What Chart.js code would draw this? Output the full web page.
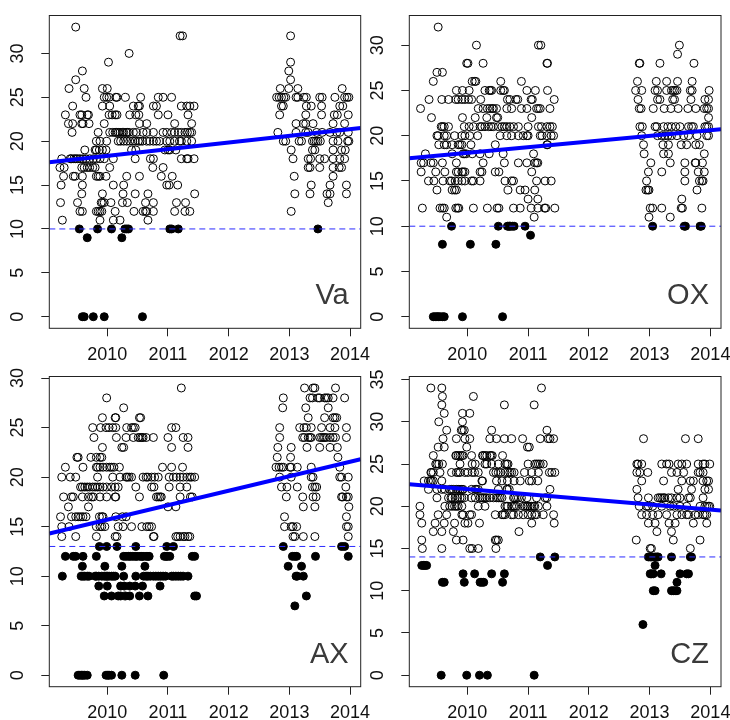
<!DOCTYPE html>
<html>
<head>
<meta charset="utf-8">
<script src="https://cdn.jsdelivr.net/npm/chart.js@4.4.1/dist/chart.umd.min.js"></script>
<style>
  html, body { margin: 0; padding: 0; background: #ffffff; }
  #wrap { position: relative; width: 730px; height: 720px; }
  #wrap canvas { position: absolute; left: 0; top: 0; }
</style>
</head>
<body>
<div id="wrap">
  <canvas id="cVa" width="730" height="720"></canvas>
  <canvas id="cOX" width="730" height="720"></canvas>
  <canvas id="cAX" width="730" height="720"></canvas>
  <canvas id="cCZ" width="730" height="720"></canvas>
</div>
<script>
// Observations per station: each row is [value, [decimal years of the observations]]
const vaRows = [
  [33, [2009.48]],
  [32, [2011.20, 2011.24, 2013.02]],
  [30, [2010.36]],
  [29, [2010.02, 2013.02]],
  [28, [2009.59, 2012.99]],
  [27, [2009.48, 2013.02]],
  [26, [2009.37, 2009.62, 2009.92, 2010.00, 2012.85, 2012.99, 2013.14, 2013.87]],
  [25, [2009.65, 2009.95, 2009.99, 2010.03, 2010.14, 2010.16, 2010.30, 2010.55, 2010.84, 2010.92, 2011.06, 2012.79, 2012.83, 2012.87, 2012.91, 2012.94, 2013.11, 2013.14, 2013.24, 2013.28, 2013.50, 2013.54, 2013.75, 2013.91, 2013.95, 2013.98]],
  [24, [2009.43, 2009.92, 2010.04, 2010.43, 2010.51, 2010.53, 2010.76, 2010.81, 2011.22, 2011.31, 2011.36, 2011.43, 2012.87, 2012.90, 2013.28, 2013.36, 2013.53, 2013.83, 2013.88]],
  [23, [2009.31, 2009.55, 2009.58, 2009.67, 2009.69, 2010.03, 2010.08, 2010.13, 2010.16, 2010.37, 2010.47, 2010.52, 2010.84, 2011.00, 2011.33, 2012.84, 2013.27, 2013.53, 2013.74, 2013.79, 2013.97]],
  [22, [2009.36, 2009.43, 2009.58, 2009.60, 2009.70, 2009.95, 2010.53, 2010.65, 2011.11, 2011.39, 2013.11, 2013.23, 2013.27, 2013.39, 2013.72, 2013.91]],
  [21, [2009.42, 2009.85, 2010.04, 2010.09, 2010.13, 2010.15, 2010.18, 2010.21, 2010.25, 2010.27, 2010.31, 2010.33, 2010.36, 2010.43, 2010.48, 2010.59, 2010.65, 2010.76, 2010.92, 2010.98, 2011.06, 2011.11, 2011.17, 2011.22, 2011.28, 2011.32, 2011.36, 2011.39, 2012.81, 2013.11, 2013.27, 2013.31, 2013.45, 2013.54, 2013.67, 2013.78, 2013.83, 2013.97]],
  [20, [2009.82, 2009.88, 2009.99, 2010.18, 2010.22, 2010.27, 2010.32, 2010.37, 2010.42, 2010.46, 2010.51, 2010.54, 2010.58, 2010.65, 2010.70, 2010.76, 2010.81, 2010.86, 2010.98, 2011.03, 2011.11, 2011.19, 2011.22, 2011.31, 2011.39, 2012.90, 2012.94, 2013.16, 2013.20, 2013.38, 2013.41, 2013.44, 2013.47, 2013.51, 2013.72, 2013.80, 2013.96, 2013.98]],
  [19, [2009.63, 2009.80, 2009.82, 2009.87, 2009.92, 2009.98, 2010.40, 2010.47, 2010.95, 2011.00, 2011.03, 2011.13, 2013.03, 2013.38, 2013.42, 2013.72, 2013.86, 2013.92]],
  [18, [2009.25, 2009.39, 2009.41, 2009.45, 2009.48, 2009.51, 2009.55, 2009.60, 2009.65, 2009.71, 2009.77, 2009.82, 2009.88, 2009.95, 2010.10, 2010.46, 2010.71, 2010.76, 2011.22, 2011.31, 2011.33, 2011.43, 2013.06, 2013.31, 2013.35, 2013.50, 2013.58, 2013.72, 2013.83, 2013.91]],
  [17, [2009.22, 2009.29, 2009.58, 2009.62, 2009.67, 2009.71, 2009.76, 2009.80, 2010.04, 2010.75, 2010.92, 2013.31, 2013.34, 2013.50, 2013.72, 2013.82, 2013.86]],
  [16, [2009.28, 2009.44, 2009.47, 2009.59, 2009.82, 2009.85, 2009.88, 2009.98, 2010.32, 2010.53, 2010.89, 2011.07, 2013.08, 2013.72]],
  [15, [2009.24, 2009.59, 2010.10, 2010.27, 2010.98, 2011.02, 2011.16, 2013.36, 2013.67, 2013.94]],
  [14, [2009.58, 2009.92, 2010.26, 2010.46, 2010.67, 2011.44, 2013.09, 2013.34, 2013.62, 2013.67, 2013.94]],
  [13, [2009.23, 2009.51, 2009.90, 2009.92, 2009.95, 2010.06, 2010.25, 2010.33, 2010.63, 2010.76, 2011.14, 2011.29, 2013.64]],
  [12, [2009.55, 2009.59, 2009.82, 2009.85, 2009.88, 2009.91, 2010.13, 2010.44, 2010.59, 2010.63, 2010.65, 2010.76, 2011.11, 2011.28, 2011.36, 2013.03]],
  [11, [2009.26, 2009.88, 2010.10, 2010.21, 2010.67]],
  [10, [2009.54, 2009.84, 2010.07, 2010.29, 2010.32, 2010.35, 2011.03, 2011.06, 2011.17, 2013.47]],
  [9, [2009.67, 2010.24]],
  [0, [2009.59, 2009.62, 2009.77, 2009.95, 2010.58]]
];

const oxRows = [
  [32, [2009.52]],
  [30, [2010.15, 2011.17, 2011.21, 2013.49]],
  [29, [2013.46]],
  [28, [2009.99, 2010.01, 2010.26, 2011.31, 2011.32, 2012.83, 2012.84, 2013.17, 2013.73]],
  [27, [2009.50, 2009.59]],
  [26, [2009.44, 2010.08, 2010.12, 2010.14, 2010.55, 2010.89, 2012.80, 2013.11, 2013.28, 2013.46, 2013.70]],
  [25, [2009.82, 2009.92, 2010.03, 2010.29, 2010.36, 2010.38, 2010.40, 2010.55, 2010.59, 2010.61, 2010.98, 2011.12, 2011.32, 2012.77, 2012.87, 2013.09, 2013.13, 2013.28, 2013.36, 2013.39, 2013.42, 2013.45, 2013.67, 2013.70, 2013.98]],
  [24, [2009.37, 2009.58, 2009.69, 2009.81, 2009.85, 2009.91, 2009.96, 2010.02, 2010.07, 2010.22, 2010.66, 2010.70, 2010.80, 2010.83, 2011.05, 2011.07, 2011.43, 2012.81, 2013.13, 2013.17, 2013.38, 2013.41, 2013.68, 2013.91, 2013.97]],
  [23, [2009.23, 2010.18, 2010.26, 2010.33, 2010.37, 2010.41, 2010.43, 2010.48, 2010.65, 2010.73, 2010.89, 2010.98, 2011.14, 2011.17, 2011.20, 2011.36, 2012.83, 2012.86, 2013.06, 2013.24, 2013.35, 2013.47, 2013.63, 2013.76, 2013.90, 2013.94, 2013.97]],
  [22, [2009.41, 2009.92, 2010.13, 2010.32, 2010.48, 2010.50, 2011.06, 2013.97]],
  [21, [2009.57, 2009.59, 2009.62, 2009.69, 2009.95, 2010.03, 2010.10, 2010.21, 2010.24, 2010.29, 2010.35, 2010.39, 2010.43, 2010.51, 2010.57, 2010.61, 2010.65, 2010.70, 2010.76, 2010.84, 2011.00, 2011.17, 2011.22, 2011.31, 2011.36, 2011.40, 2012.84, 2012.88, 2013.09, 2013.12, 2013.23, 2013.30, 2013.36, 2013.43, 2013.50, 2013.64, 2013.69, 2013.72, 2013.91, 2013.94, 2013.97]],
  [20, [2009.50, 2009.52, 2009.62, 2009.66, 2009.79, 2009.91, 2009.96, 2010.04, 2010.17, 2010.54, 2010.65, 2010.73, 2010.84, 2010.92, 2010.98, 2011.00, 2011.20, 2011.23, 2011.31, 2011.38, 2011.42, 2012.87, 2013.13, 2013.20, 2013.25, 2013.30, 2013.36, 2013.45, 2013.56, 2013.64, 2013.78, 2013.94, 2013.97]],
  [19, [2009.53, 2009.62, 2009.66, 2009.75, 2009.85, 2009.88, 2009.91, 2010.06, 2010.46, 2011.31, 2011.32, 2012.90, 2013.22, 2013.31, 2013.52, 2013.61, 2013.76, 2013.82]],
  [18, [2009.31, 2009.75, 2009.93, 2009.95, 2009.98, 2010.08, 2010.21, 2010.36, 2010.59, 2011.09, 2012.91, 2013.23, 2013.31, 2013.90]],
  [17, [2009.24, 2009.28, 2009.40, 2009.44, 2009.59, 2009.82, 2010.26, 2010.61, 2010.84, 2010.98, 2011.11, 2011.14, 2011.16, 2013.02, 2013.34, 2013.58, 2013.75, 2013.76, 2013.87]],
  [16, [2009.24, 2009.48, 2009.63, 2009.82, 2009.85, 2009.91, 2009.93, 2009.96, 2010.21, 2010.24, 2010.46, 2010.52, 2011.06, 2012.98, 2013.20, 2013.58, 2013.80, 2013.90]],
  [15, [2009.36, 2009.45, 2009.60, 2009.71, 2009.74, 2009.80, 2009.85, 2009.91, 2009.96, 2010.07, 2010.10, 2010.21, 2010.62, 2010.73, 2010.76, 2011.14, 2011.28, 2011.38, 2012.95, 2013.58, 2013.82, 2013.86, 2013.88]],
  [14, [2009.50, 2009.75, 2009.79, 2009.82, 2010.67, 2010.87, 2010.95, 2011.11, 2012.94, 2012.97, 2012.99, 2013.78]],
  [13, [2011.00, 2011.16, 2013.53]],
  [12, [2009.26, 2009.55, 2009.59, 2009.62, 2009.81, 2009.84, 2009.86, 2010.10, 2010.33, 2010.49, 2010.52, 2010.76, 2010.87, 2011.05, 2011.16, 2011.27, 2011.29, 2011.44, 2013.01, 2013.05, 2013.20, 2013.52, 2013.54, 2013.86]],
  [11, [2009.66, 2011.10, 2012.99, 2013.34]],
  [10, [2009.74, 2010.51, 2010.66, 2010.69, 2010.71, 2010.74, 2010.77, 2010.95, 2013.05, 2013.57, 2013.59, 2013.83, 2013.85]],
  [9, [2011.04]],
  [8, [2009.59, 2010.05, 2010.47]],
  [0, [2009.44, 2009.47, 2009.50, 2009.52, 2009.55, 2009.59, 2009.62, 2009.92, 2010.58]]
];

const axRows = [
  [29, [2011.22, 2013.25, 2013.39, 2013.42, 2013.76]],
  [28, [2009.99, 2012.90, 2013.34, 2013.38, 2013.47, 2013.50, 2013.58, 2013.61, 2013.64, 2013.72, 2013.91]],
  [27, [2010.27, 2012.89, 2013.27, 2013.64]],
  [26, [2009.92, 2010.13, 2010.14, 2010.53, 2010.55, 2013.31, 2013.58, 2013.72, 2013.75, 2013.78]],
  [25, [2009.76, 2009.89, 2009.98, 2010.03, 2010.09, 2010.14, 2010.32, 2010.40, 2010.43, 2010.46, 2011.06, 2011.13, 2012.84, 2013.17, 2013.24, 2013.28, 2013.36, 2013.53, 2013.67, 2013.75, 2013.94]],
  [24, [2009.78, 2010.15, 2010.31, 2010.43, 2010.51, 2010.54, 2010.57, 2010.59, 2010.64, 2010.76, 2011.00, 2011.25, 2011.33, 2012.84, 2013.22, 2013.25, 2013.31, 2013.34, 2013.36, 2013.50, 2013.53, 2013.56, 2013.58, 2013.61, 2013.67, 2013.72, 2013.76, 2013.94]],
  [23, [2009.92, 2010.24, 2010.27, 2011.06, 2011.33, 2012.81, 2013.03, 2013.29, 2013.50, 2013.67, 2013.79]],
  [22, [2009.50, 2009.52, 2009.73, 2009.82, 2009.88, 2009.91, 2012.80, 2013.02, 2013.80]],
  [21, [2009.31, 2009.60, 2009.82, 2009.84, 2009.88, 2009.93, 2009.99, 2010.04, 2010.07, 2010.11, 2010.20, 2010.91, 2011.06, 2011.24, 2012.78, 2012.83, 2012.87, 2012.90, 2013.01, 2013.03, 2013.13, 2013.36, 2013.83]],
  [20, [2009.25, 2009.39, 2009.48, 2009.84, 2010.09, 2010.21, 2010.31, 2010.33, 2010.36, 2010.40, 2010.59, 2010.64, 2010.67, 2010.73, 2010.78, 2010.84, 2011.02, 2011.09, 2011.14, 2011.20, 2011.25, 2011.31, 2011.36, 2011.39, 2011.44, 2012.84, 2013.03, 2013.36, 2013.39, 2013.83, 2013.86, 2013.97]],
  [19, [2009.56, 2009.59, 2009.63, 2009.67, 2009.71, 2009.76, 2009.80, 2009.84, 2009.88, 2009.93, 2009.99, 2010.07, 2010.13, 2010.18, 2010.47, 2010.73, 2010.77, 2011.02, 2011.20, 2011.31, 2012.87, 2012.96, 2013.13, 2013.38, 2013.42, 2013.45, 2013.93]],
  [18, [2009.28, 2009.41, 2009.44, 2009.59, 2009.69, 2009.74, 2009.77, 2009.88, 2009.99, 2010.13, 2010.14, 2010.53, 2010.81, 2010.84, 2010.87, 2010.89, 2011.20, 2011.37, 2011.40, 2012.95, 2013.22, 2013.39, 2013.44, 2013.86, 2013.88, 2013.94, 2013.97]],
  [17, [2009.36, 2009.69, 2011.00, 2011.13, 2013.23, 2013.42, 2013.98]],
  [16, [2009.23, 2009.41, 2009.48, 2009.52, 2009.56, 2009.60, 2009.65, 2009.87, 2009.91, 2009.93, 2010.14, 2010.25, 2010.31, 2012.92, 2013.94]],
  [15, [2009.25, 2009.37, 2009.82, 2009.88, 2009.91, 2009.96, 2010.18, 2010.26, 2010.40, 2010.57, 2010.65, 2010.69, 2010.73, 2012.92, 2013.03, 2013.06, 2013.12, 2013.94, 2013.97]],
  [14, [2009.25, 2009.48, 2009.82, 2010.13, 2010.16, 2010.76, 2010.77, 2011.13, 2011.16, 2011.20, 2011.25, 2011.28, 2011.33, 2011.36, 2013.06, 2013.09, 2013.23, 2013.42, 2013.97]],
  [13, [2009.87, 2009.99, 2010.16, 2010.47, 2010.98, 2011.09, 2012.90, 2013.86, 2013.91]],
  [12, [2009.31, 2009.44, 2009.48, 2009.60, 2009.82, 2010.27, 2010.31, 2010.35, 2010.38, 2010.42, 2010.46, 2010.49, 2010.54, 2010.57, 2010.59, 2010.64, 2010.67, 2010.69, 2010.94, 2010.97, 2010.99, 2011.03, 2011.40, 2011.44, 2013.05, 2013.09, 2013.12, 2013.43, 2013.97]],
  [11, [2009.59, 2009.96, 2010.24, 2010.62, 2012.98, 2013.20]],
  [10, [2009.26, 2009.57, 2009.60, 2009.63, 2009.67, 2009.70, 2009.80, 2009.82, 2009.86, 2009.91, 2009.95, 2009.98, 2010.00, 2010.03, 2010.07, 2010.10, 2010.13, 2010.27, 2010.47, 2010.60, 2010.64, 2010.67, 2010.71, 2010.76, 2010.80, 2010.84, 2010.88, 2010.92, 2010.96, 2011.06, 2011.09, 2011.13, 2011.17, 2011.21, 2011.25, 2011.33, 2013.11, 2013.13, 2013.23]],
  [9, [2009.86, 2010.00, 2010.22, 2010.28, 2010.37, 2010.46, 2010.58, 2010.87]],
  [8, [2009.95, 2010.07, 2010.18, 2010.22, 2010.30, 2010.37, 2010.53, 2010.67, 2011.44, 2011.47, 2013.28]],
  [7, [2013.09]],
  [0, [2009.52, 2009.55, 2009.58, 2009.60, 2009.63, 2009.67, 2009.98, 2010.01, 2010.03, 2010.07, 2010.24, 2010.46, 2010.93]]
];

const czRows = [
  [34, [2009.40, 2009.58, 2011.22]],
  [33, [2009.59, 2010.10]],
  [32, [2009.58, 2010.61, 2011.10]],
  [31, [2009.62, 2009.92, 2010.04]],
  [30, [2009.53, 2009.92]],
  [29, [2009.66, 2009.90, 2009.92, 2009.95, 2010.40, 2011.31]],
  [28, [2009.60, 2009.82, 2009.96, 2010.04, 2010.37, 2010.48, 2010.61, 2010.73, 2010.91, 2011.20, 2011.33, 2011.36, 2011.42, 2012.90, 2013.59, 2013.80]],
  [27, [2009.52, 2009.62, 2009.99, 2010.99, 2011.02]],
  [26, [2009.44, 2009.81, 2009.82, 2009.85, 2009.88, 2009.91, 2009.93, 2010.07, 2010.25, 2010.26, 2010.29, 2010.32, 2010.37, 2010.39, 2010.41, 2010.58]],
  [25, [2009.48, 2009.50, 2009.53, 2009.59, 2009.88, 2010.08, 2010.13, 2010.29, 2010.32, 2010.40, 2010.51, 2010.62, 2010.65, 2010.67, 2011.00, 2011.11, 2011.14, 2011.17, 2011.20, 2011.25, 2012.79, 2012.81, 2012.87, 2013.20, 2013.28, 2013.32, 2013.47, 2013.53, 2013.61, 2013.80, 2013.88, 2013.91, 2013.99]],
  [24, [2009.40, 2009.41, 2009.44, 2009.55, 2009.74, 2009.82, 2009.85, 2009.88, 2009.96, 2010.01, 2010.08, 2010.12, 2010.18, 2010.43, 2010.47, 2010.51, 2010.55, 2010.62, 2010.67, 2010.70, 2010.73, 2010.77, 2010.94, 2011.06, 2011.17, 2011.35, 2011.39, 2011.44, 2012.79, 2012.84, 2012.97, 2013.36, 2013.45, 2013.56, 2013.80, 2013.83, 2013.88]],
  [23, [2009.29, 2009.36, 2009.39, 2009.41, 2009.44, 2009.58, 2010.24, 2010.25, 2010.48, 2010.57, 2010.66, 2010.77, 2010.87, 2011.02, 2011.06, 2011.16, 2012.87, 2013.23, 2013.53, 2013.67, 2013.72, 2013.88, 2013.94, 2013.97]],
  [22, [2009.36, 2009.50, 2009.58, 2009.63, 2009.71, 2009.74, 2009.77, 2009.82, 2009.85, 2009.88, 2009.91, 2009.93, 2010.07, 2010.13, 2010.15, 2010.18, 2010.51, 2010.65, 2010.66, 2010.69, 2011.36, 2012.79, 2013.47, 2013.69, 2013.91, 2013.97]],
  [21, [2009.50, 2009.69, 2009.73, 2009.75, 2009.80, 2009.84, 2009.88, 2009.91, 2009.95, 2010.07, 2010.13, 2010.21, 2010.24, 2010.26, 2010.29, 2010.32, 2010.37, 2010.43, 2010.48, 2010.51, 2010.54, 2010.57, 2010.76, 2010.78, 2010.81, 2010.84, 2010.89, 2010.98, 2011.14, 2011.28, 2011.31, 2012.81, 2012.98, 2013.14, 2013.17, 2013.20, 2013.23, 2013.25, 2013.31, 2013.36, 2013.45, 2013.50, 2013.64, 2013.67, 2013.88]],
  [20, [2009.22, 2009.63, 2009.71, 2009.75, 2009.79, 2009.82, 2009.85, 2009.91, 2010.18, 2010.29, 2010.62, 2010.65, 2010.67, 2010.73, 2010.76, 2010.78, 2010.81, 2010.92, 2010.95, 2010.98, 2011.00, 2011.03, 2011.06, 2011.09, 2011.11, 2011.17, 2011.31, 2012.83, 2012.95, 2012.98, 2013.05, 2013.20, 2013.34, 2013.39, 2013.50, 2013.61, 2013.83, 2013.91, 2013.94, 2013.97, 2013.99]],
  [19, [2009.22, 2009.52, 2009.66, 2009.91, 2009.93, 2010.04, 2010.07, 2010.46, 2010.57, 2010.59, 2010.62, 2010.73, 2010.76, 2010.84, 2010.92, 2011.00, 2011.06, 2011.11, 2011.14, 2011.25, 2011.42, 2012.87, 2012.95, 2013.05, 2013.14, 2013.28, 2013.45, 2013.53, 2013.61, 2013.64, 2013.75, 2013.80, 2013.88, 2013.91, 2013.94]],
  [18, [2009.25, 2009.47, 2009.62, 2009.79, 2009.96, 2010.01, 2010.20, 2011.06, 2011.43, 2012.98, 2013.09, 2013.32, 2013.42, 2013.72, 2013.94]],
  [17, [2009.44, 2009.58, 2009.77, 2010.85, 2013.12, 2013.36]],
  [16, [2009.25, 2009.82, 2009.93, 2010.46, 2010.48, 2010.51, 2012.78, 2013.39, 2013.83]],
  [15, [2009.26, 2009.58, 2010.04, 2010.08, 2010.18, 2010.47, 2013.01, 2013.03, 2013.67]],
  [14, [2011.20, 2011.44, 2012.98, 2013.01, 2013.03, 2013.09, 2013.12, 2013.14, 2013.36, 2013.67, 2013.69]],
  [13, [2009.25, 2009.28, 2009.30, 2009.33, 2011.32, 2013.09]],
  [12, [2009.93, 2010.12, 2010.40, 2010.61, 2013.01, 2013.03, 2013.06, 2013.19, 2013.50, 2013.61, 2013.64]],
  [11, [2009.59, 2009.62, 2009.95, 2010.21, 2010.24, 2010.27, 2010.58, 2013.45]],
  [10, [2013.06, 2013.09, 2013.36, 2013.39, 2013.42, 2013.45]],
  [6, [2012.89]],
  [0, [2009.57, 2009.99, 2010.20, 2010.33, 2011.10]]
];

const stationNames = ['Va', 'OX', 'AX', 'CZ'];
const thresholds = [10, 10, 13, 14];          // dashed reference level per station
const trendAtStart = [17.6, 17.5, 14.3, 22.6]; // fitted trend at the left edge
const trendAtEnd = [21.5, 20.7, 21.8, 19.5];   // fitted trend at the right edge
const yearTicks = [2010, 2011, 2012, 2013, 2014];
const valueTicks = [
  [0, 5, 10, 15, 20, 25, 30],
  [0, 5, 10, 15, 20, 25, 30],
  [0, 5, 10, 15, 20, 25, 30],
  [0, 5, 10, 15, 20, 25, 30, 35]
];

// ---- drawing ----
const FONT = '"Liberation Sans", Arial, Helvetica, sans-serif';
Chart.defaults.font.family = FONT;
Chart.defaults.font.size = 18;
Chart.defaults.color = '#111';

const X_MIN = 2009.045, X_MAX = 2014.175;
const Y_AXIS_W = 40, X_AXIS_H = 40;

// plot frames on the 730x720 page
const frames = [
  { left: 49.3, top: 15.5, right: 360.7, bottom: 328.3, yMin: -1.32, yMax: 34.32 },
  { left: 409.3, top: 15.5, right: 721.0, bottom: 328.3, yMin: -1.28, yMax: 33.28 },
  { left: 49.3, top: 376.5, right: 360.7, bottom: 686.7, yMin: -1.16, yMax: 30.16 },
  { left: 409.3, top: 376.5, right: 721.0, bottom: 686.7, yMin: -1.36, yMax: 35.36 }
];
const canvasIds = ['cVa', 'cOX', 'cAX', 'cCZ'];
const allRows = [vaRows, oxRows, axRows, czRows];

const framePlugin = {
  id: 'panelFrame',
  afterDraw(chart, args, opts) {
    const { ctx, chartArea: a } = chart;
    ctx.save();
    ctx.strokeStyle = '#222';
    ctx.lineWidth = 1;
    ctx.strokeRect(a.left, a.top, a.right - a.left, a.bottom - a.top);
    ctx.font = '29px ' + FONT;
    ctx.fillStyle = '#3a3a3a';
    ctx.textAlign = 'right';
    ctx.textBaseline = 'alphabetic';
    ctx.fillText(opts.name, a.right - 12, a.bottom - 24);
    ctx.restore();
  }
};

function splitPoints(rows, thr) {
  const open = [], filled = [];
  rows.forEach(([v, years]) => {
    years.forEach(t => (v <= thr ? filled : open).push({ x: t, y: v }));
  });
  return { open, filled };
}

stationNames.forEach((name, i) => {
  const f = frames[i];
  const pts = splitPoints(allRows[i], thresholds[i]);
  const ticksY = valueTicks[i];

  new Chart(document.getElementById(canvasIds[i]), {
    type: 'scatter',
    data: {
      datasets: [
        {
          data: [{ x: X_MIN, y: trendAtStart[i] }, { x: X_MAX, y: trendAtEnd[i] }],
          showLine: true, borderColor: '#0000ff', borderWidth: 4,
          pointRadius: 0, order: 0
        },
        {
          data: [{ x: X_MIN, y: thresholds[i] }, { x: X_MAX, y: thresholds[i] }],
          showLine: true, borderColor: '#2a2aff', borderWidth: 1,
          borderDash: [6, 4], pointRadius: 0, order: 1
        },
        {
          data: pts.filled, pointRadius: 4, pointBorderWidth: 1,
          pointBackgroundColor: '#000', pointBorderColor: '#000', order: 2
        },
        {
          data: pts.open, pointRadius: 4, pointBorderWidth: 1,
          pointBackgroundColor: 'rgba(0,0,0,0)', pointBorderColor: '#000', order: 3
        }
      ]
    },
    options: {
      responsive: false,
      animation: false,
      events: [],
      layout: {
        padding: {
          left: f.left - Y_AXIS_W,
          top: f.top,
          right: 730 - f.right,
          bottom: 720 - f.bottom - X_AXIS_H
        }
      },
      plugins: {
        legend: { display: false },
        tooltip: { enabled: false },
        panelFrame: { name }
      },
      scales: {
        x: {
          type: 'linear', min: X_MIN, max: X_MAX,
          afterBuildTicks: s => { s.ticks = yearTicks.map(v => ({ value: v })); },
          afterFit: s => { s.height = X_AXIS_H; s.paddingLeft = 0; s.paddingRight = 0; },
          ticks: { autoSkip: false, maxRotation: 0, padding: 8, color: '#111',
                   callback: v => String(v) },
          grid: { drawOnChartArea: false, drawTicks: true, tickLength: 8,
                  color: '#222', lineWidth: 1 },
          border: { display: false }
        },
        y: {
          type: 'linear', min: f.yMin, max: f.yMax,
          afterBuildTicks: s => { s.ticks = ticksY.map(v => ({ value: v })); },
          afterFit: s => { s.width = Y_AXIS_W; s.paddingTop = 0; s.paddingBottom = 0; },
          ticks: { autoSkip: false, minRotation: 90, maxRotation: 90,
                   crossAlign: 'center', padding: 13, color: '#111',
                   callback: v => String(v) },
          grid: { drawOnChartArea: false, drawTicks: true, tickLength: 8,
                  color: '#222', lineWidth: 1 },
          border: { display: false }
        }
      }
    },
    plugins: [framePlugin]
  });
});
</script>
</body>
</html>
